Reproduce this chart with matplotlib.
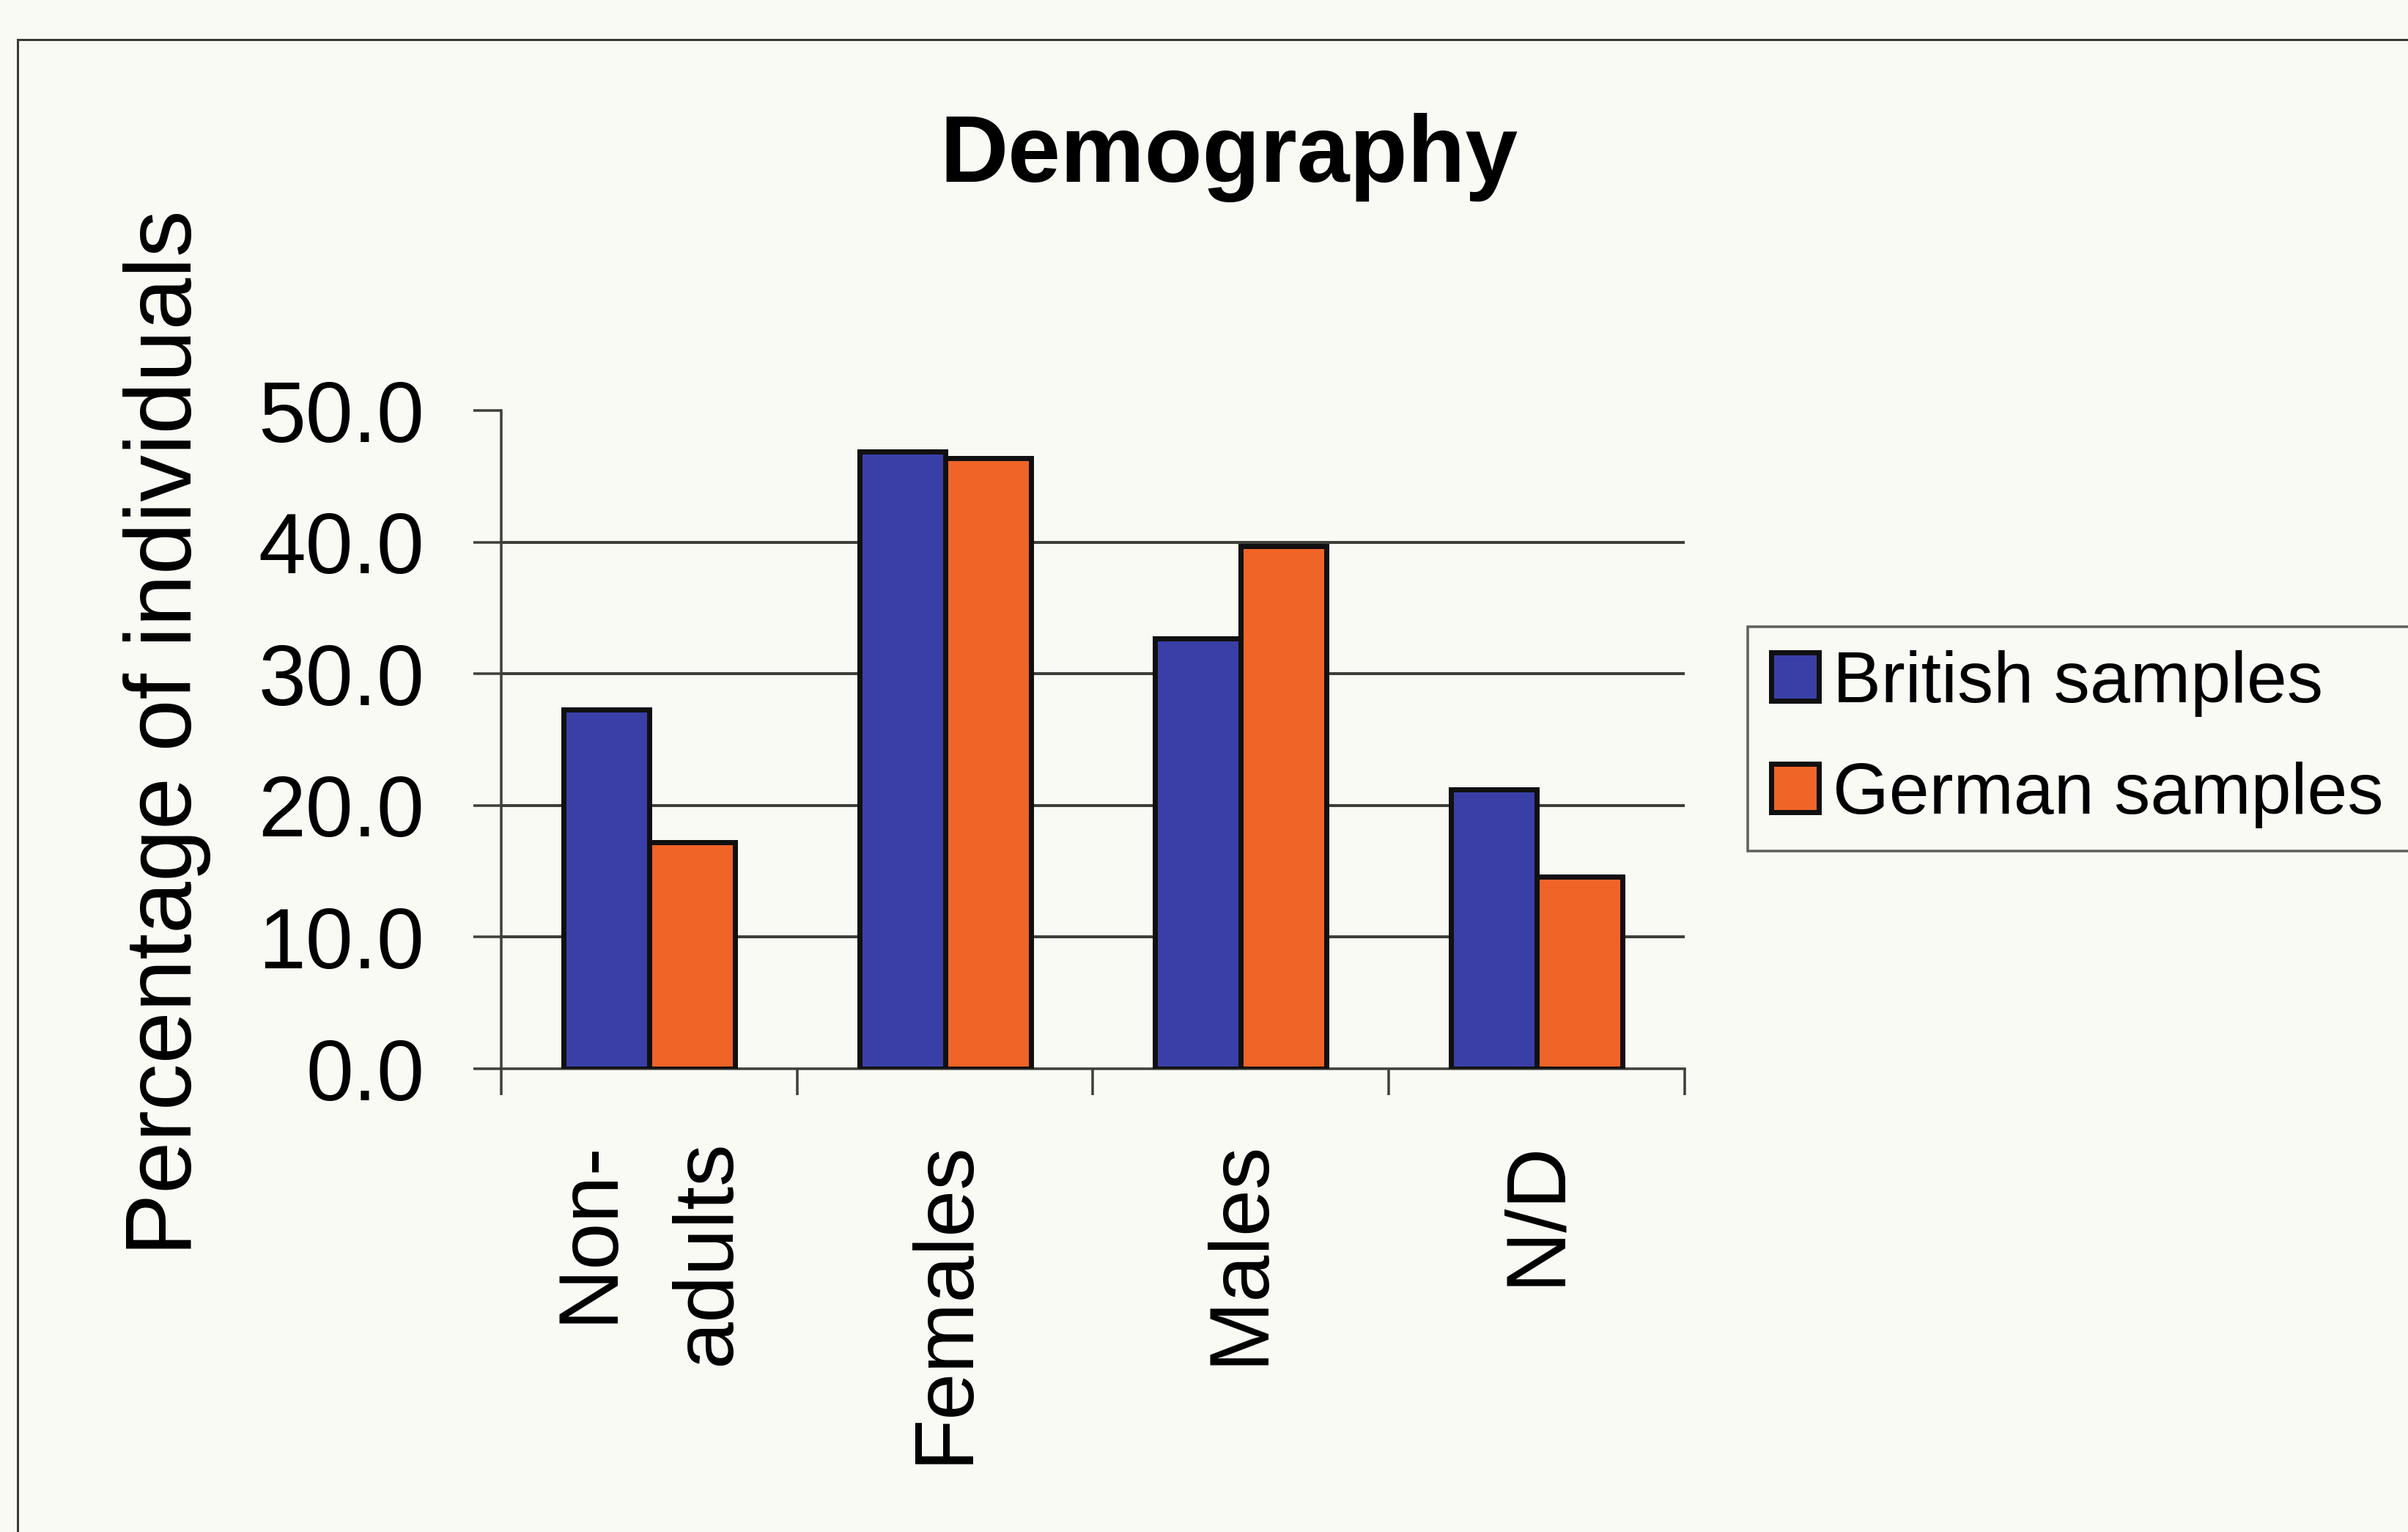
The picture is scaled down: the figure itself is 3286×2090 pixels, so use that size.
import matplotlib
matplotlib.use("Agg")
import matplotlib.pyplot as plt
import numpy as np
from matplotlib.patches import Rectangle

categories = ["Non-\nadults", "Females", "Males", "N/D"]
british = [27.3, 46.9, 32.7, 21.2]
german = [17.2, 46.4, 39.7, 14.6]
series_names = ["British samples", "German samples"]
yticks = [0, 10, 20, 30, 40, 50]

W, H = 3287, 2090
DPI = 100
BG = "#fafaf5"
BLUE = "#3a3fa8"
ORANGE = "#f06428"
LINE = "#3f3f3a"

plt.rcParams['font.family'] = ['Liberation Sans', 'DejaVu Sans']

fig = plt.figure(figsize=(W / DPI, H / DPI), dpi=DPI, facecolor=BG)

def px(v):  # pixels to points
    return v * 72.0 / DPI

# outer chart-area border
fig.patches.append(Rectangle((24 / W, -0.05), 1.1, (1 - 54 / H) + 0.05,
                             transform=fig.transFigure, fill=False,
                             edgecolor="#3a3a35", linewidth=px(3), clip_on=False))

ax_l, ax_r, ax_t, ax_b = 684, 2299, 560, 1458
ax = fig.add_axes([ax_l / W, 1 - ax_b / H, (ax_r - ax_l) / W, (ax_b - ax_t) / H])
ax.set_facecolor("none")

x = np.arange(len(categories))
bw = 0.29
b1 = ax.bar(x - bw / 2, british, width=bw, color=BLUE, edgecolor="#101010",
            linewidth=px(7), label=series_names[0], zorder=3)
b2 = ax.bar(x + bw / 2, german, width=bw, color=ORANGE, edgecolor="#101010",
            linewidth=px(7), label=series_names[1], zorder=3)

ax.set_xlim(-0.5, len(categories) - 0.5)
ax.set_ylim(0, 50)
ax.set_yticks(yticks)
ax.set_yticklabels([f"{v:.1f}" for v in yticks])
for v in yticks[1:-1]:
    ax.axhline(v, color=LINE, linewidth=px(4), zorder=1)

ax.set_xticks(x)
ax.set_xticklabels(categories, rotation=90, ha="center", va="top",
                   multialignment="right", linespacing=1.65)
ax.set_xticks(np.arange(-0.5, len(categories), 1.0), minor=True)
ax.tick_params(axis="x", which="major", length=0, pad=px(97), labelsize=83)
ax.tick_params(axis="x", which="minor", length=px(36), width=px(3.5), color=LINE,
               direction="out")
ax.tick_params(axis="y", length=px(38), width=px(3.5), color=LINE, pad=px(67),
               labelsize=84, direction="out")

for s in ["top", "right"]:
    ax.spines[s].set_visible(False)
for s in ["left", "bottom"]:
    ax.spines[s].set_color(LINE)
    ax.spines[s].set_linewidth(px(3.5))

fig.text(1677 / W, 1 - 215 / H, "Demography", ha="center", va="center",
         fontsize=93, fontweight="bold")
fig.text(228 / W, 1 - 1000 / H, "Percentage of individuals", rotation=90,
         ha="center", va="center", fontsize=92)

leg = fig.legend(handles=[b1, b2], labels=series_names, loc="upper left",
                 bbox_to_anchor=(2385 / W, 1 - 1151 / H, 1000 / W, 296 / H),
                 mode="expand", borderaxespad=0,
                 fontsize=71, handlelength=0.66, handleheight=0.66,
                 handletextpad=0.2, borderpad=0.32, labelspacing=0.62,
                 fancybox=False, frameon=True)
leg.get_frame().set_edgecolor("#3a3a35")
leg.get_frame().set_linewidth(px(3.5))
leg.get_frame().set_facecolor(BG)

fig.savefig("out.png", dpi=DPI, facecolor=BG)
